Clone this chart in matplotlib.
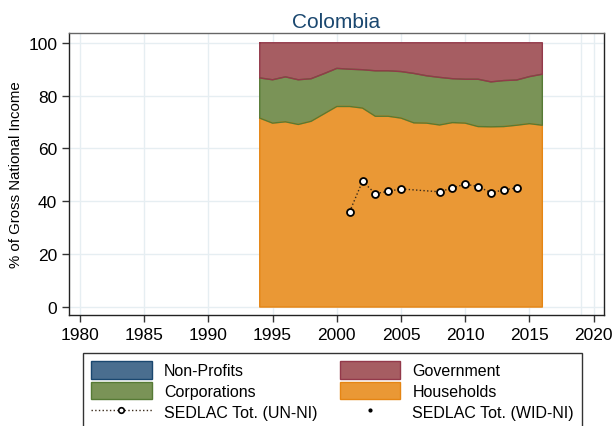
import numpy as np
import matplotlib.pyplot as plt
from matplotlib.patches import Patch
from matplotlib.lines import Line2D

plt.rcParams['font.family'] = ['Liberation Sans', 'DejaVu Sans']

years = np.arange(1994, 2017)
households = [71.5, 69.6, 70.1, 69.1, 70.3, 73.1, 75.9, 75.9, 75.3, 72.2, 72.2, 71.5,
              69.7, 69.6, 68.9, 69.8, 69.6, 68.3, 68.2, 68.3, 68.8, 69.4, 68.8]
corporations = [15.2, 16.4, 17.0, 16.9, 16.1, 15.2, 14.4, 14.1, 14.5, 17.2, 17.2, 17.6,
                18.7, 17.9, 18.0, 16.6, 16.6, 17.9, 17.0, 17.4, 17.1, 17.8, 19.3]
nonprofits = [0.0] * len(years)
government = [100 - h - c - n for h, c, n in zip(households, corporations, nonprofits)]

sedlac_years = [2001, 2002, 2003, 2004, 2005, 2008, 2009, 2010, 2011, 2012, 2013, 2014]
sedlac_un = [36.1, 47.6, 42.9, 43.8, 44.7, 43.6, 45.1, 46.5, 45.6, 43.3, 44.3, 45.1]
sedlac_wid_years = []
sedlac_wid = []

c_hh, e_hh = '#ea9835', '#e58514'
c_corp, e_corp = '#7a9357', '#567a35'
c_gov, e_gov = '#a65d62', '#93394a'
c_np, e_np = '#4a6e8f', '#1a476f'

fig = plt.figure(figsize=(6.16, 4.27), dpi=100)
ax = fig.add_axes([0.112, 0.26, 0.8685, 0.6604])

# stacked sectors, each outlined in its own darker tone
layers = [(households, c_hh, e_hh), (corporations, c_corp, e_corp),
          (nonprofits, c_np, e_np), (government, c_gov, e_gov)]
base = np.zeros(len(years))
for vals, fc, ec in layers:
    top = base + np.array(vals)
    if np.allclose(top, base):
        continue
    ax.fill_between(years, base, top, facecolor=fc, edgecolor='none', zorder=2)
    xs = np.concatenate([years, years[::-1], years[:1]])
    ys = np.concatenate([top, base[::-1], top[:1]])
    ax.plot(xs, ys, color=ec, lw=1, zorder=3)
    base = top

ax.plot(sedlac_years, sedlac_un, linestyle=':', color='#3a2a1a', lw=1,
        marker='o', markersize=5, markerfacecolor='white',
        markeredgecolor='black', markeredgewidth=1.3, zorder=5)
ax.plot(sedlac_wid_years, sedlac_wid, linestyle='none', marker='o',
        markersize=2, color='black', zorder=5)

ax.set_xlim(1979.15, 2020.8)
ax.set_ylim(-3, 103.7)
ax.set_xticks(np.arange(1980, 2021, 5))
ax.set_yticks(np.arange(0, 101, 20))
ax.tick_params(axis='both', direction='out', length=5, width=1, labelsize=12.5,
               color='#333333')
ax.grid(True, color='#e6eef2', lw=1, zorder=0)
ax.axvline(2019, color='#e6eef2', lw=1, zorder=0)
ax.set_axisbelow(True)
for s in ax.spines.values():
    s.set_color('#222222')
    s.set_linewidth(1)
ax.spines['top'].set_color('#666666')

ax.set_ylabel('% of Gross National Income', fontsize=10.8, labelpad=4)
ax.set_title('Colombia', fontsize=15, color='#1a476f', pad=4)

handles = [
    Patch(facecolor=c_np, edgecolor=e_np, lw=1),
    Patch(facecolor=c_corp, edgecolor=e_corp, lw=1),
    Line2D([], [], linestyle=':', color='#3a2a1a', lw=1, marker='o', markersize=4,
           markerfacecolor='white', markeredgecolor='black', markeredgewidth=1.2),
    Patch(facecolor=c_gov, edgecolor=e_gov, lw=1),
    Patch(facecolor=c_hh, edgecolor=e_hh, lw=1),
    Line2D([], [], linestyle='none', marker='o', markersize=2, color='black'),
]
labels = ['Non-Profits', 'Corporations', 'SEDLAC Tot. (UN-NI)',
          'Government', 'Households', 'SEDLAC Tot. (WID-NI)']
leg = fig.legend(handles, labels, ncol=2, loc='upper left',
                 bbox_to_anchor=(0.135, 0.17), borderaxespad=0, fontsize=11.5,
                 handlelength=3.8, handleheight=1.3, handletextpad=0.75,
                 columnspacing=1.4, labelspacing=0.2, borderpad=0.5,
                 frameon=True, fancybox=False, edgecolor='black')
leg.get_frame().set_linewidth(1)

fig.savefig('out.png', dpi=100)
